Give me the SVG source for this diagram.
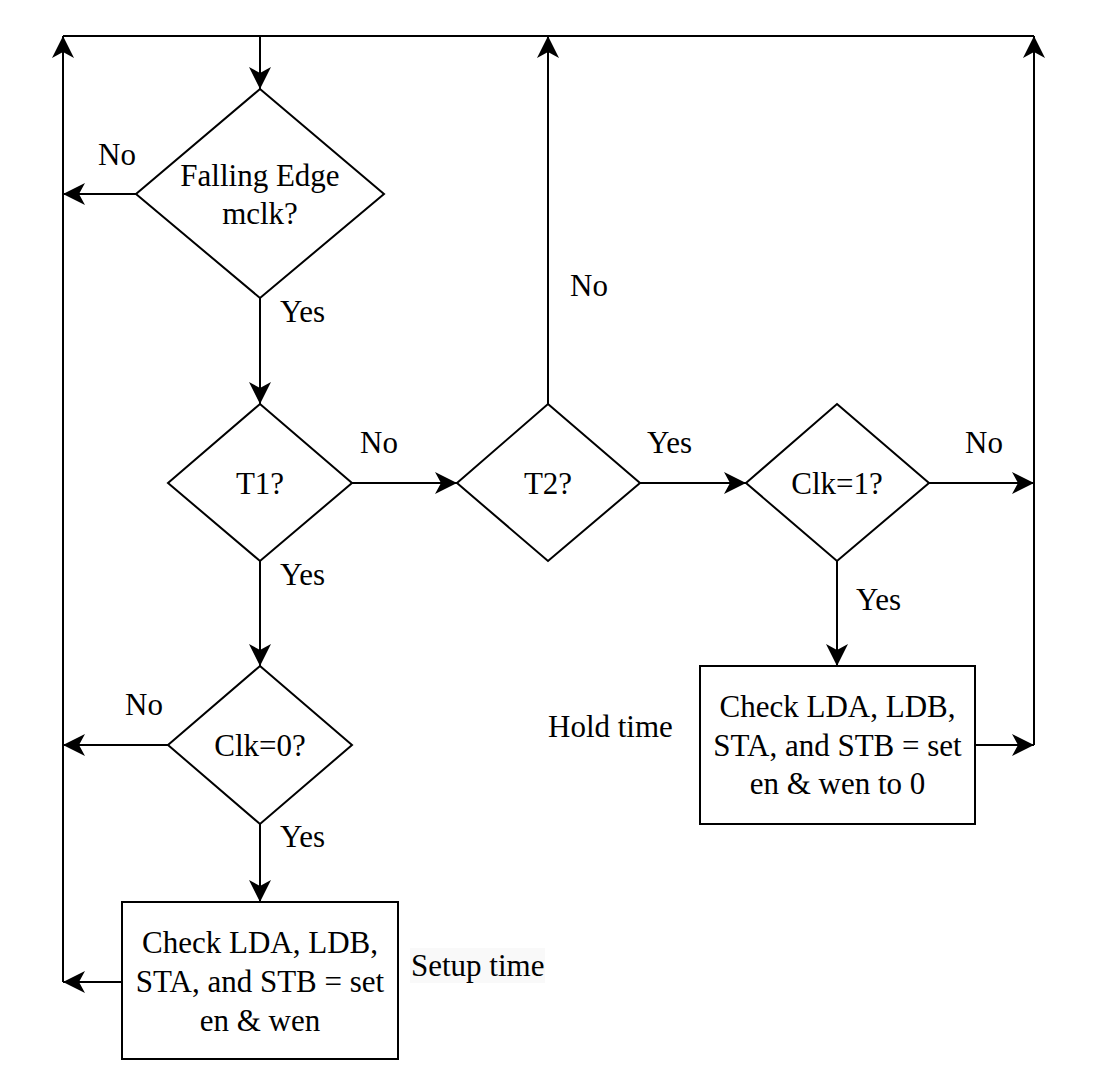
<svg xmlns="http://www.w3.org/2000/svg" width="1093" height="1087" viewBox="0 0 1093 1087">
<style>
.shape{fill:#ffffff;stroke:#000000;stroke-width:2}
.line{fill:none;stroke:#000000;stroke-width:2}
.t{font-family:"Liberation Serif","Times New Roman",serif;font-size:31px;fill:#000000}
.c{text-anchor:middle}
</style>
<defs>
<marker id="arr" markerWidth="22" markerHeight="22" viewBox="0 0 22 22" refX="22" refY="11" orient="auto" markerUnits="userSpaceOnUse">
<path d="M0,0 L22,11 L0,22 L6,11 Z" fill="#000000"/>
</marker>
</defs>
<rect width="1093" height="1087" fill="#ffffff"/>
<g id="connectors">
<path class="line" d="M63,36 H1034"/>
<path class="line" d="M122,982 H63" marker-end="url(#arr)"/>
<path class="line" d="M63,982 V36" marker-end="url(#arr)"/>
<path class="line" d="M260,36 V89" marker-end="url(#arr)"/>
<path class="line" d="M136,194 H63" marker-end="url(#arr)"/>
<path class="line" d="M168,745 H63" marker-end="url(#arr)"/>
<path class="line" d="M260,298 V404" marker-end="url(#arr)"/>
<path class="line" d="M260,561 V666" marker-end="url(#arr)"/>
<path class="line" d="M260,824 V902" marker-end="url(#arr)"/>
<path class="line" d="M352,483 H457" marker-end="url(#arr)"/>
<path class="line" d="M548,404 V36" marker-end="url(#arr)"/>
<path class="line" d="M640,483 H746" marker-end="url(#arr)"/>
<path class="line" d="M929,483 H1034" marker-end="url(#arr)"/>
<path class="line" d="M837,561 V666" marker-end="url(#arr)"/>
<path class="line" d="M975,745 H1034" marker-end="url(#arr)"/>
<path class="line" d="M1034,745 V36" marker-end="url(#arr)"/>
<text class="t" x="98" y="165">No</text>
<text class="t" x="280" y="322">Yes</text>
<text class="t" x="360" y="453">No</text>
<text class="t" x="280" y="585">Yes</text>
<text class="t" x="570" y="296">No</text>
<text class="t" x="647" y="453">Yes</text>
<text class="t" x="965" y="453">No</text>
<text class="t" x="856" y="610">Yes</text>
<text class="t" x="125" y="715">No</text>
<text class="t" x="280" y="847">Yes</text>
</g>
<g id="falling-edge">
<polygon class="shape" points="260,89 384,194 260,298 136,194"/>
<text class="t c" x="260" y="186">Falling Edge</text>
<text class="t c" x="260" y="224">mclk?</text>
</g>
<g id="t1">
<polygon class="shape" points="260,404 352,483 260,561 168,483"/>
<text class="t c" x="260" y="494">T1?</text>
</g>
<g id="t2">
<polygon class="shape" points="548,404 640,483 548,561 457,483"/>
<text class="t c" x="548" y="494">T2?</text>
</g>
<g id="clk1">
<polygon class="shape" points="837,404 929,483 837,561 746,483"/>
<text class="t c" x="837" y="494">Clk=1?</text>
</g>
<g id="clk0">
<polygon class="shape" points="260,666 352,745 260,824 168,745"/>
<text class="t c" x="260" y="756">Clk=0?</text>
</g>
<g id="hold-box">
<rect class="shape" x="700" y="666" width="275" height="158"/>
<text class="t c" x="837.5" y="717">Check LDA, LDB,</text>
<text class="t c" x="837.5" y="756">STA, and STB = set</text>
<text class="t c" x="837.5" y="794">en &amp; wen to 0</text>
</g>
<g id="hold-label">
<text class="t" x="548" y="737">Hold time</text>
</g>
<g id="setup-box">
<rect class="shape" x="122" y="902" width="276" height="157"/>
<text class="t c" x="260" y="953">Check LDA, LDB,</text>
<text class="t c" x="260" y="992">STA, and STB = set</text>
<text class="t c" x="260" y="1031">en &amp; wen</text>
</g>
<g id="setup-label">
<rect x="410" y="948" width="135" height="35" fill="#f9f9f9"/>
<text class="t" x="411" y="976">Setup time</text>
</g>
</svg>
